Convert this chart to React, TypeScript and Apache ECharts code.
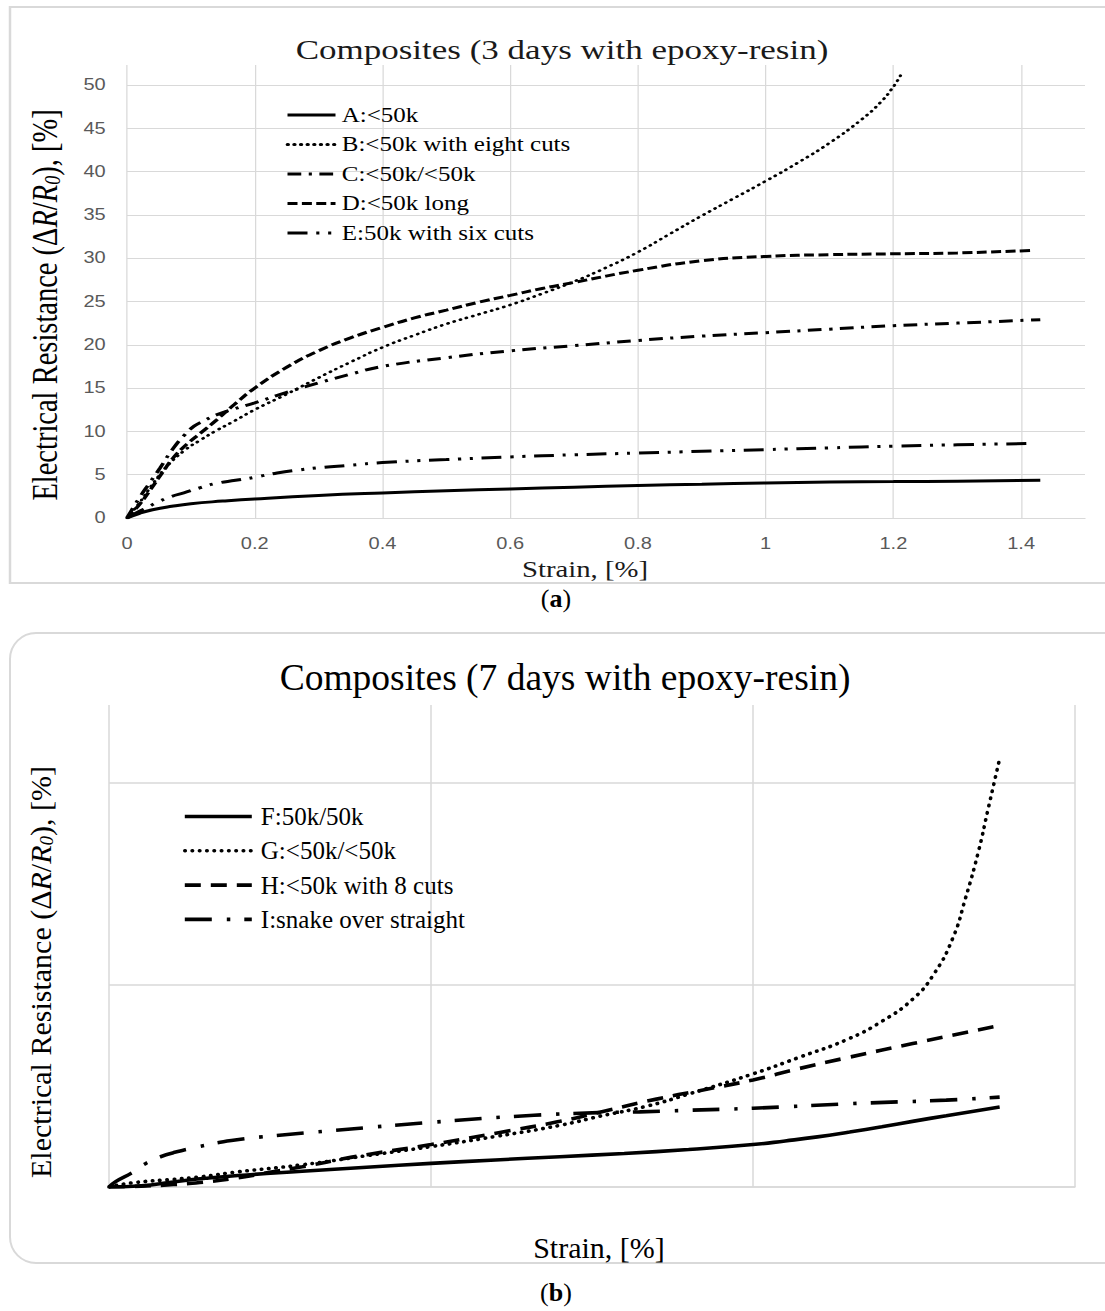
import React, { useEffect, useRef } from "react";
import * as echarts from "echarts";

// ---------- Top chart data (strain %, ΔR/R0 %) ----------
const topNames = ["A:<50k", "B:<50k with eight cuts", "C:<50k/<50k", "D:<50k long", "E:50k with six cuts"];

const seriesA: [number, number][] = [
  [0, 0], [0.02, 0.55], [0.04, 0.95], [0.07, 1.35], [0.1, 1.65], [0.15, 1.95], [0.2, 2.2], [0.3, 2.6],
  [0.4, 2.9], [0.5, 3.15], [0.6, 3.35], [0.7, 3.55], [0.8, 3.75], [0.9, 3.9], [1.0, 4.05], [1.1, 4.15],
  [1.2, 4.2], [1.3, 4.25], [1.43, 4.35],
];
const seriesB: [number, number][] = [
  [0, 0], [0.02, 1.8], [0.04, 3.9], [0.063, 6.0], [0.09, 7.8], [0.115, 9.0], [0.14, 10.1], [0.168, 11.2],
  [0.2, 12.5], [0.25, 14.3], [0.3, 16.2], [0.35, 18.0], [0.4, 19.7], [0.45, 21.1], [0.5, 22.4], [0.55, 23.5],
  [0.6, 24.6], [0.65, 25.9], [0.7, 27.3], [0.75, 28.9], [0.8, 30.7], [0.85, 32.8], [0.9, 34.9], [0.95, 36.9],
  [1.0, 38.9], [1.05, 41.0], [1.1, 43.3], [1.15, 46.0], [1.18, 48.0], [1.2, 49.8], [1.212, 51.2],
];
const seriesC: [number, number][] = [
  [0, 0], [0.02, 2.4], [0.035, 4.0], [0.052, 5.8], [0.07, 7.8], [0.089, 9.5], [0.105, 10.6], [0.12, 11.2],
  [0.14, 11.9], [0.168, 12.6], [0.2, 13.3], [0.25, 14.5], [0.3, 15.6], [0.35, 16.6], [0.4, 17.5], [0.5, 18.5],
  [0.6, 19.3], [0.7, 19.9], [0.8, 20.5], [0.9, 21.0], [1.0, 21.4], [1.1, 21.8], [1.2, 22.2], [1.3, 22.5],
  [1.43, 22.9],
];
const seriesD: [number, number][] = [
  [0, 0], [0.02, 1.6], [0.037, 3.3], [0.055, 5.2], [0.073, 7.0], [0.095, 8.6], [0.115, 9.8], [0.14, 11.3],
  [0.168, 13.1], [0.2, 15.0], [0.25, 17.4], [0.3, 19.3], [0.35, 20.8], [0.4, 22.0], [0.45, 23.1], [0.5, 24.0],
  [0.55, 24.9], [0.6, 25.7], [0.65, 26.5], [0.7, 27.2], [0.8, 28.6], [0.9, 29.7], [1.0, 30.2], [1.1, 30.4],
  [1.2, 30.5], [1.3, 30.6], [1.42, 30.9],
];
const seriesE: [number, number][] = [
  [0, 0], [0.015, 0.6], [0.026, 1.0], [0.05, 1.9], [0.07, 2.5], [0.089, 2.9], [0.115, 3.5], [0.14, 4.0],
  [0.17, 4.35], [0.2, 4.7], [0.235, 5.2], [0.27, 5.55], [0.3, 5.8], [0.35, 6.1], [0.4, 6.4], [0.5, 6.75],
  [0.6, 7.05], [0.7, 7.3], [0.8, 7.5], [0.9, 7.7], [1.0, 7.9], [1.1, 8.1], [1.2, 8.3], [1.3, 8.45], [1.41, 8.6],
];

// ---------- Bottom chart data (no tick labels in the original; grid units) ----------
const bottomNames = ["F:50k/50k", "G:<50k/<50k", "H:<50k with 8 cuts", "I:snake over straight"];

const seriesF: [number, number][] = [
  [0, 0], [0.05, 0.06], [0.1, 0.25], [0.15, 0.43], [0.2, 0.57], [0.3, 0.78], [0.4, 0.98], [0.5, 1.17],
  [0.6, 1.34], [0.7, 1.5], [0.8, 1.66], [0.9, 1.86], [1.0, 2.1], [1.05, 2.28], [1.1, 2.48], [1.15, 2.72],
  [1.2, 2.98], [1.25, 3.26], [1.3, 3.53], [1.383, 3.96],
];
const seriesG: [number, number][] = [
  [0, 0], [0.037, 0.21], [0.1, 0.38], [0.141, 0.5], [0.2, 0.75], [0.3, 1.1], [0.4, 1.55], [0.5, 2.0],
  [0.6, 2.5], [0.7, 3.05], [0.762, 3.5], [0.835, 4.0], [0.9, 4.6], [1.0, 5.6], [1.07, 6.4], [1.146, 7.3],
  [1.2, 8.2], [1.248, 9.3], [1.28, 10.5], [1.31, 12.3], [1.33, 14.3], [1.35, 16.6], [1.365, 18.7], [1.383, 21.2],
];
const seriesH: [number, number][] = [
  [0, 0], [0.05, 0.04], [0.1, 0.12], [0.141, 0.22], [0.2, 0.45], [0.245, 0.7], [0.3, 1.0], [0.348, 1.3],
  [0.4, 1.6], [0.5, 2.1], [0.607, 2.7], [0.7, 3.25], [0.762, 3.7], [0.85, 4.35], [0.93, 4.85], [1.0, 5.3],
  [1.07, 5.85], [1.146, 6.4], [1.248, 7.1], [1.383, 8.0],
];
const seriesI: [number, number][] = [
  [0, 0], [0.01, 0.26], [0.037, 0.73], [0.059, 1.2], [0.08, 1.5], [0.1, 1.7], [0.14, 2.0], [0.19, 2.3],
  [0.26, 2.55], [0.35, 2.8], [0.5, 3.2], [0.66, 3.55], [0.76, 3.68], [0.824, 3.72], [0.9, 3.8], [1.0, 3.9],
  [1.17, 4.15], [1.3, 4.3], [1.383, 4.45],
];

const SERIF = '"Liberation Serif", "Times New Roman", serif';
const SANS = '"Liberation Sans", Arial, sans-serif';
const GRID = "#d9d9d9";

// The upper panel of the original figure is stretched horizontally.
const TOP_SCALE = 1.25;
const TOP_W = 884;
const TOP_H = 592;

function line(name: string, data: [number, number][], width: number, type: any, cap: string = "butt") {
  return {
    name,
    type: "line",
    data,
    symbol: "none",
    showSymbol: false,
    smooth: 0.5,
    lineStyle: { color: "#000", width, type, cap },
    itemStyle: { color: "#000" },
    emphasis: { disabled: true },
    silent: true,
  };
}

function yTitle(x: number, y: number, size: number, sub: number) {
  return {
    type: "text",
    x,
    y,
    rotation: Math.PI / 2,
    style: {
      text: "{a|Electrical Resistance (Δ}{i|R}{a|/}{i|R}{s|0}{a|), [%]}",
      align: "center",
      verticalAlign: "middle",
      textAlign: "center",
      textVerticalAlign: "middle",
      rich: {
        a: { fontSize: size, fontFamily: SERIF, fill: "#000" },
        i: { fontSize: size, fontFamily: SERIF, fontStyle: "italic", fill: "#000" },
        s: { fontSize: sub, fontFamily: SERIF, fontStyle: "italic", fill: "#000", padding: [Math.round(size * 0.4), 0, 0, 0] },
      },
    },
  };
}

function plainText(x: number, y: number, text: string, size: number, color = "#000") {
  return {
    type: "text",
    x,
    y,
    style: {
      text,
      fontSize: size,
      fontFamily: SERIF,
      fill: color,
      align: "center",
      verticalAlign: "middle",
      textAlign: "center",
      textVerticalAlign: "middle",
    },
  };
}

function panelLabel(x: number, y: number, letter: string) {
  return {
    type: "text",
    x,
    y,
    style: {
      text: `{n|(}{b|${letter}}{n|)}`,
      align: "center",
      verticalAlign: "middle",
      textAlign: "center",
      textVerticalAlign: "middle",
      rich: {
        n: { fontSize: 26, fontFamily: SERIF, fill: "#000" },
        b: { fontSize: 26, fontFamily: SERIF, fontWeight: "bold", fill: "#000" },
      },
    },
  };
}

export default function App() {
  const topRef = useRef<HTMLDivElement>(null);
  const botRef = useRef<HTMLDivElement>(null);

  useEffect(() => {
    const top = echarts.init(topRef.current!, undefined, { renderer: "svg" });
    const bot = echarts.init(botRef.current!, undefined, { renderer: "svg" });

    top.setOption({
      animation: false,
      grid: { left: 101.6, right: 16, top: 65, bottom: 74, containLabel: false, outerBoundsMode: "none" },
      xAxis: {
        type: "value",
        min: 0,
        max: 1.5,
        interval: 0.2,
        axisLine: { show: true, lineStyle: { color: GRID, width: 1 } },
        axisTick: { show: false },
        splitLine: { show: true, showMaxLine: false, lineStyle: { color: GRID, width: 1 } },
        axisLabel: { showMaxLabel: false, color: "#595959", fontSize: 16, fontFamily: SANS, margin: 18 },
      },
      yAxis: {
        type: "value",
        min: 0,
        max: 52.3,
        interval: 5,
        axisLine: { show: false },
        axisTick: { show: false },
        splitLine: { show: true, showMaxLine: false, lineStyle: { color: GRID, width: 1 } },
        axisLabel: { showMaxLabel: false, color: "#595959", fontSize: 16, fontFamily: SANS, margin: 17 },
      },
      legend: {
        orient: "vertical",
        left: 223.5,
        top: 100,
        itemWidth: 38.4,
        itemHeight: 20,
        itemGap: 9.5,
        selectedMode: false,
        data: topNames,
        itemStyle: { opacity: 0, borderWidth: 0 },
        lineStyle: { width: 3 },
        textStyle: { fontFamily: SERIF, fontSize: 20, color: "#000", lineHeight: 20 },
      },
      graphic: [
        { type: "rect", silent: true, z: -10, shape: { x: 8, y: 7, width: TOP_W + 10, height: 576 }, style: { fill: "none", stroke: GRID, lineWidth: 2 } },
        plainText(449.6, 50, "Composites (3 days with epoxy-resin)", 28, "#1a1a1a"),
        plainText(468, 569, "Strain, [%]", 23, "#1a1a1a"),
        yTitle(36, 305, 28.5, 18),
      ],
      series: [
        line(topNames[0], seriesA, 3, "solid"),
        line(topNames[1], seriesB, 2.6, [0.5, 4.8], "round"),
        line(topNames[2], seriesC, 3, [11, 6, 2.5, 6]),
        line(topNames[3], seriesD, 3, [8, 3.5]),
        line(topNames[4], seriesE, 3, [16, 7, 2.5, 7, 2.5, 7]),
      ],
    });

    bot.setOption({
      animation: false,
      grid: { left: 109, right: 30, top: 705, bottom: 124, containLabel: false, outerBoundsMode: "none" },
      xAxis: {
        type: "value",
        min: 0,
        max: 1.5,
        interval: 0.5,
        axisLine: { show: true, lineStyle: { color: GRID, width: 1.5 } },
        axisTick: { show: false },
        axisLabel: { show: false },
        splitLine: { show: true, lineStyle: { color: GRID, width: 1.5 } },
      },
      yAxis: {
        type: "value",
        min: 0,
        max: 23.86,
        interval: 10,
        axisLine: { show: false },
        axisTick: { show: false },
        axisLabel: { show: false },
        splitLine: { show: true, showMaxLine: false, lineStyle: { color: GRID, width: 1.5 } },
      },
      legend: {
        orient: "vertical",
        left: 178,
        top: 799,
        itemWidth: 67,
        itemHeight: 24,
        itemGap: 9.3,
        selectedMode: false,
        data: bottomNames,
        itemStyle: { opacity: 0, borderWidth: 0 },
        lineStyle: { width: 3.6 },
        textStyle: { fontFamily: SERIF, fontSize: 25, color: "#000", lineHeight: 24, padding: [0, 0, 0, 4] },
      },
      graphic: [
        { type: "rect", silent: true, z: -10, shape: { x: 10, y: 633, width: 1125, height: 630, r: 26 }, style: { fill: "none", stroke: GRID, lineWidth: 2 } },
        plainText(565, 677, "Composites (7 days with epoxy-resin)", 37.5),
        plainText(599, 1247, "Strain, [%]", 30),
        yTitle(40, 972, 30, 19),
        panelLabel(556, 598, "a"),
        panelLabel(556, 1292, "b"),
      ],
      series: [
        line(bottomNames[0], seriesF, 3.6, "solid"),
        line(bottomNames[1], seriesG, 3.6, [0.5, 6.8], "round"),
        line(bottomNames[2], seriesH, 3.6, [16, 10]),
        line(bottomNames[3], seriesI, 3.6, [27, 15, 3.5, 14]),
      ],
    });

    return () => {
      top.dispose();
      bot.dispose();
    };
  }, []);

  return (
    <div style={{ position: "absolute", left: 0, top: 0, width: 1105, height: 1311, background: "#fff", overflow: "hidden" }}>
      <div ref={botRef} style={{ position: "absolute", left: 0, top: 0, width: 1105, height: 1311, overflow: "hidden" }} />
      <div
        ref={topRef}
        style={{
          position: "absolute",
          left: 0,
          top: 0,
          width: TOP_W,
          height: TOP_H,
          overflow: "hidden",
          transform: `scaleX(${TOP_SCALE})`,
          transformOrigin: "0 0",
        }}
      />
    </div>
  );
}
